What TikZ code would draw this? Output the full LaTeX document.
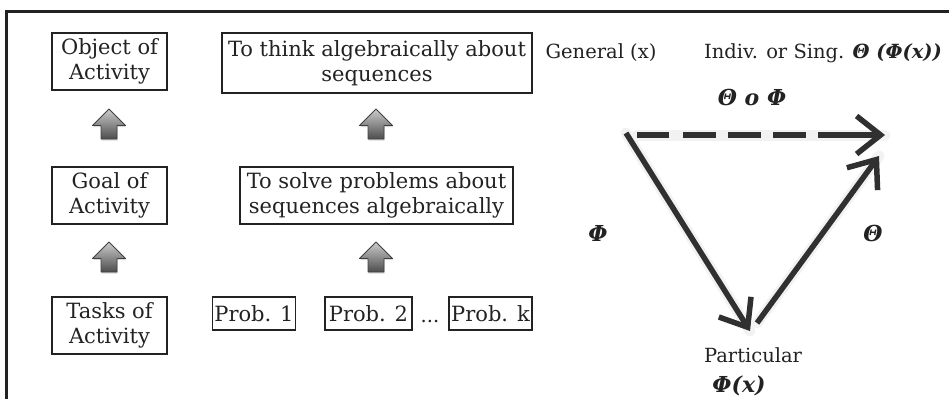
\documentclass[tikz,border=0pt]{standalone}
\usepackage{fontspec}
\setmainfont{DejaVu Serif}
\usetikzlibrary{arrows.meta,shadows}
\definecolor{ink}{HTML}{222222}
\definecolor{arrowgray}{HTML}{303030}

\tikzset{
  box/.style={draw=ink, line width=1.1pt, text=ink, align=center, inner sep=2pt,
    font=\fontsize{21}{25}\selectfont},
  lbl/.style={text=ink, font=\fontsize{19.5}{23}\selectfont},
  greek/.style={text=ink, font=\fontsize{22}{25}\selectfont\bfseries\itshape},
  blockup/.style={top color=gray!40, bottom color=black!70, draw=black!75,
    line width=0.9pt, line join=round,
    drop shadow={shadow xshift=0.5pt, shadow yshift=-1.5pt, opacity=0.3}},
  glow/.style={line width=11pt, draw=gray!10, line cap=round},
  bigarrow/.style={line width=5.5pt, draw=arrowgray,
    -{Straight Barb[length=24pt, width=38pt, line width=5.5pt]}}
}

\begin{document}
\begin{tikzpicture}[x=1pt, y=-1pt]
    \useasboundingbox (0,0) rectangle (949,399);

    % Frame of the figure
    \draw[line width=3pt, ink] (6.5,399) -- (6.5,11) -- (949,11);

    % Left column: levels of the activity
    \node[box, minimum width=115pt, minimum height=57pt] (object) at (109.5,61.5) {Object of\\Activity};
    \node[box, minimum width=115pt, minimum height=57pt] (goal) at (109.5,195.5) {Goal of\\Activity};
    \node[box, minimum width=115pt, minimum height=57pt] (tasks) at (109.5,325.5) {Tasks of\\Activity};

    % Middle column: the sequences example
    \node[box, minimum width=310pt, minimum height=60pt] (think) at (377,63) {To think algebraically about\\sequences};
    \node[box, minimum width=273pt, minimum height=57pt] (solve) at (376.5,195.5) {To solve problems about\\sequences algebraically};
    \node[box, minimum width=78pt, minimum height=33pt] (prob1) at (254,313.5) {Prob. 1};
    \node[box, minimum width=87pt, minimum height=33pt] (prob2) at (368.5,313.5) {Prob. 2};
    \node[box, minimum width=83pt, minimum height=33pt] (probk) at (490.5,313.5) {Prob. k};
    \node[lbl, anchor=base] (dots) at (430,322) {...};

    % Gray block arrows between the levels
    \foreach \cx/\ty in {109/109, 376/109, 109/242, 376/242}
      \path[blockup] (\cx,\ty) -- ++(16.5,16.5) -- ++(-8.5,0) -- ++(0,13.5) -- ++(-16,0) -- ++(0,-13.5) -- ++(-8.5,0) -- cycle;

    % Right side: the triangle of the generalization
    \node[lbl] (general) at (601,53) {General (x)};
    \node[lbl] (single) at (823,53) {Indiv. or Sing. \textbf{\textit{Θ (Φ(x))}}};
    \node[greek] (comp) at (752,97) {Θ o Φ};
    \node[greek] (phi) at (598,233) {Φ};
    \node[greek] (theta) at (873,233) {Θ};
    \node[lbl] (particular) at (753,355) {Particular};
    \node[greek] (phix) at (739,386) {Φ(x)};

    \coordinate (genpt) at (626,133);
    \coordinate (genright) at (637,135);
    \coordinate (singpt) at (885,135);
    \coordinate (singlow) at (879,156);
    \coordinate (partpt) at (750,331);
    \coordinate (partright) at (757,323);

    % Soft shadow under the arrows
    \draw[glow] (genpt) -- (partpt);
    \draw[glow] (partright) -- (singlow);
    \draw[glow] (genright) -- (singpt);

    \draw[bigarrow] (genpt) -- (partpt);
    \draw[bigarrow] (partright) -- (singlow);
    \draw[bigarrow, dash pattern=on 32pt off 14pt on 33pt off 12pt on 33pt off 12pt on 33pt off 12pt on 120pt off 0pt]
      (genright) -- (singpt);
\end{tikzpicture}
\end{document}
